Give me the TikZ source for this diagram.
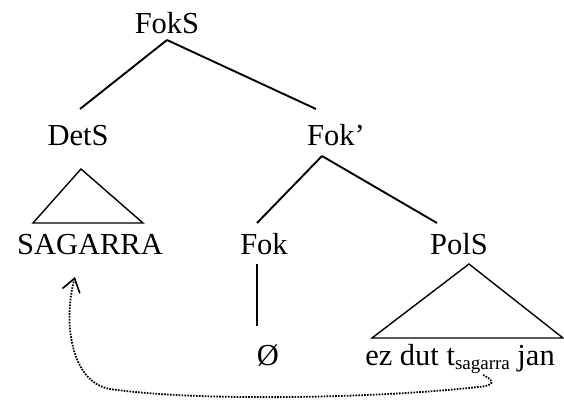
\documentclass[tikz,border=0pt]{standalone}
\usepackage{fontspec}
\setmainfont{Liberation Serif}
\usetikzlibrary{arrows.meta}
\begin{document}
\begin{tikzpicture}[x=1pt,y=-1pt,
  lbl/.style={inner sep=0pt, anchor=base, font=\fontsize{30.5}{36}\selectfont},
  branch/.style={line width=1.9pt},
  tri/.style={line width=1.4pt, line join=miter},
  move/.style={line width=1.8pt, dash pattern=on 1.6pt off 1.3pt,
    -{Straight Barb[length=13pt,width=18pt,line width=1.6pt]}}]
\useasboundingbox (0,0) rectangle (564,401);
% labels
\node[lbl] (foks) at (167,34) {FokS};
\node[lbl] (dets) at (78,145) {DetS};
\node[lbl] (fokb) at (336,145) {Fok’};
\node[lbl] (sag) at (90,254) {SAGARRA};
\node[lbl] (fok) at (264,254) {Fok};
\node[lbl] (pols) at (459,254) {PolS};
\node[lbl] (null) at (268,365) {Ø};
\node[lbl] (ez) at (460,365) {ez dut t\raisebox{-4pt}{\fontsize{19}{20}\selectfont sagarra} jan};
% attachment points
\coordinate (foksB) at (167,40);
\coordinate (detsT) at (80,109);
\coordinate (fokbT) at (316,109);
\coordinate (fokbB) at (322,156);
\coordinate (fokT) at (257,223);
\coordinate (polsT) at (437,223);
\coordinate (fokB) at (257,264);
\coordinate (nullT) at (257,326);
\coordinate (detsA) at (81,169);
\coordinate (sagL) at (33,223);
\coordinate (sagR) at (143,223);
\coordinate (polsA) at (469,264);
\coordinate (ezL) at (372,338);
\coordinate (ezR) at (563,338);
\coordinate (trace) at (483,375);
\coordinate (landing) at (75,277);
% branches
\draw[branch] (foksB) -- (detsT);
\draw[branch] (foksB) -- (fokbT);
\draw[branch] (fokbB) -- (fokT);
\draw[branch] (fokbB) -- (polsT);
\draw[branch] (fokB) -- (nullT);
\draw[tri] (detsA) -- (sagL) -- (sagR) -- cycle;
\draw[tri] (polsA) -- (ezL) -- (ezR) -- cycle;
% movement arrow
\draw[move] (trace) .. controls (496,381) and (494,386) .. (478,387)
  .. controls (380,398) and (200,402) .. (110,389)
  .. controls (70,382) and (63,320) .. (landing);
\end{tikzpicture}
\end{document}
